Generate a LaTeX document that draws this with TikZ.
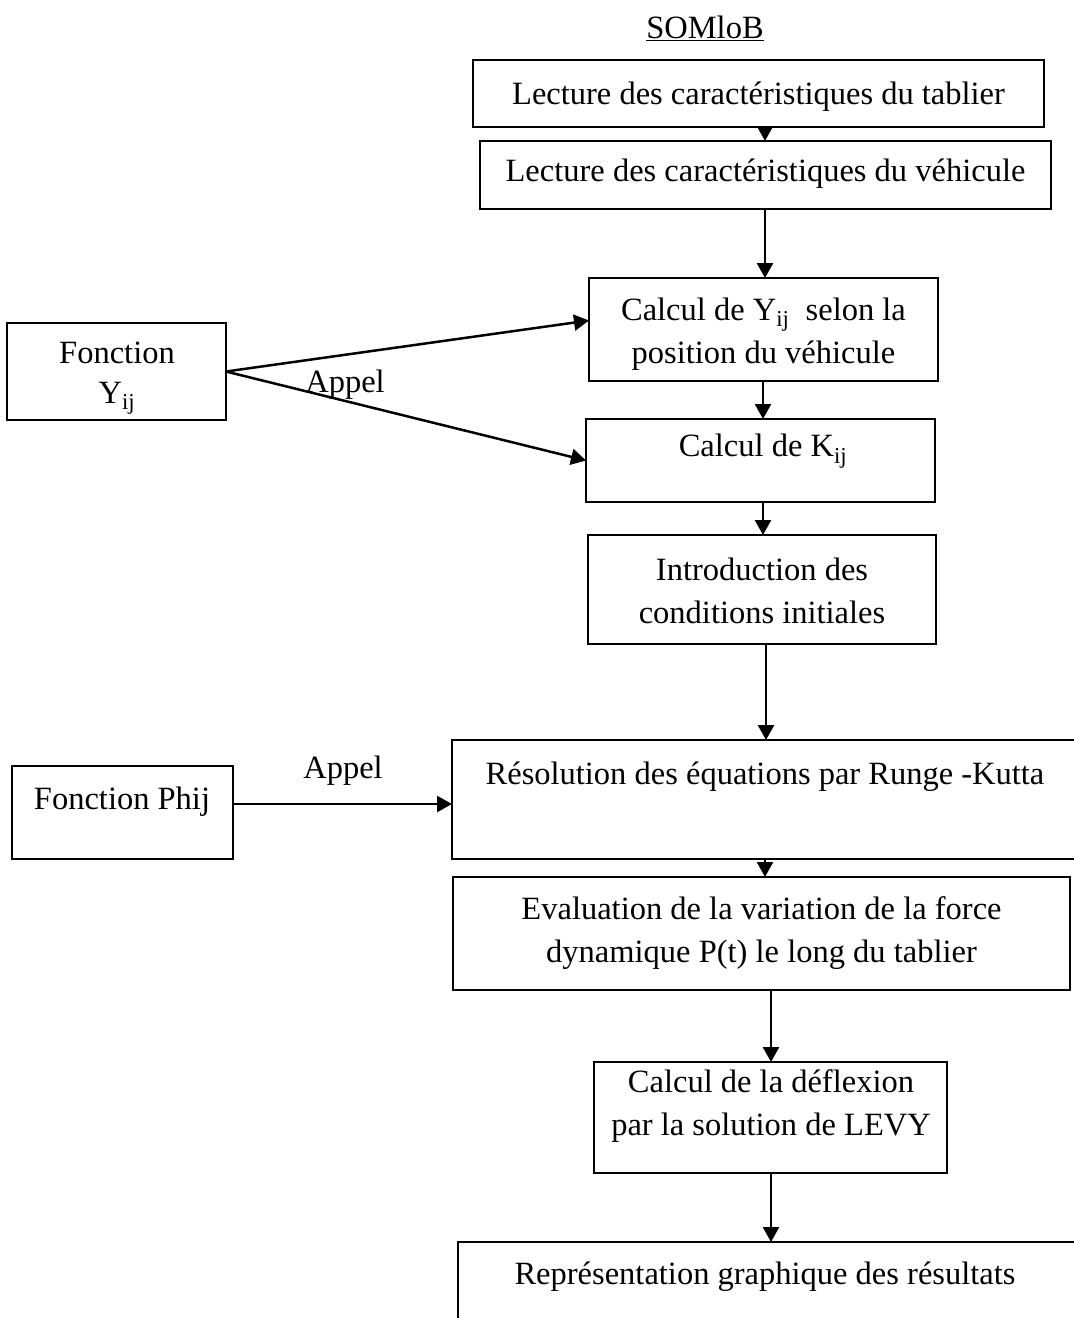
\documentclass[tikz,border=0pt]{standalone}
\usepackage{fontspec}
\setmainfont{Liberation Serif}
\usetikzlibrary{arrows.meta,calc}
\tikzset{
  box/.style={draw, line width=1.8pt, inner sep=0pt, outer sep=0pt},
  txt/.style={font=\fontsize{32.5}{43}\selectfont, align=center, inner sep=0pt, yshift=-3pt},
  arr/.style={line width=2.5pt, -{Triangle[length=15pt,width=16pt]}}
}
\begin{document}
\begin{tikzpicture}[x=1pt,y=-1pt]
\clip (0,0) rectangle (1074,1318);
% boxes
\node[box, minimum width=571pt, minimum height=67pt] (b1) at (758.5,93.5) {};
\node[box, minimum width=571pt, minimum height=68pt] (b2) at (765.5,175) {};
\node[box, minimum width=349pt, minimum height=103pt] (b3) at (763.5,329.5) {};
\node[box, minimum width=349pt, minimum height=83pt] (b4) at (760.5,460.5) {};
\node[box, minimum width=348pt, minimum height=109pt] (b5) at (762,589.5) {};
\node[box, minimum width=648pt, minimum height=119pt] (b6) at (776,799.5) {};
\node[box, minimum width=617pt, minimum height=113pt] (b7) at (761.5,933.5) {};
\node[box, minimum width=353pt, minimum height=111pt] (b8) at (770.5,1117.5) {};
\node[box, minimum width=642pt, minimum height=98pt] (b9) at (779,1291) {};
\node[box, minimum width=219pt, minimum height=97pt] (fy) at (116.5,371.5) {};
\node[box, minimum width=221pt, minimum height=93pt] (fp) at (122.5,812.5) {};
% texts
\node[txt, yshift=3pt] (somlob) at (705,28) {\underline{SOMloB}};
\node[txt] (t1) at (758.5,94) {Lecture des caractéristiques du tablier};
\node[txt] (t2) at (765.5,171) {Lecture des caractéristiques du véhicule};
\node[txt] (t3) at (763.5,331) {Calcul de Y\textsubscript{ij}\ \ selon la\\position du véhicule};
\node[txt] (t4) at (763,448) {Calcul de K\textsubscript{ij}};
\node[txt] (t5) at (762,588) {Introduction des\\conditions initiales};
\node[txt] (t6) at (765,774) {Résolution des équations par Runge -Kutta};
\node[txt] (t7) at (761.5,930) {Evaluation de la variation de la force\\dynamique P(t) le long du tablier};
\node[txt] (t8) at (771,1103) {Calcul de la déflexion\\par la solution de LEVY};
\node[txt] (t9) at (765,1274) {Représentation graphique des résultats};
\node[txt, font=\fontsize{32.5}{40}\selectfont] (tfy) at (117,375) {Fonction\\Y\textsubscript{ij}};
\node[txt] (tfp) at (122,799) {Fonction Phij};
\node[txt] (ap1) at (345,382) {Appel};
\node[txt] (ap2) at (343,768) {Appel};
% x positions of vertical connectors
\coordinate (xa) at (765,0);
\coordinate (xb) at (763,0);
\coordinate (xc) at (766,0);
\coordinate (xd) at (771,0);
% vertical connectors
\draw[arr] (b1.south -| xa) -- (b2.north -| xa);
\draw[arr] (b2.south -| xa) -- (b3.north -| xa);
\draw[arr] (b3.south -| xb) -- (b4.north -| xb);
\draw[arr] (b4.south -| xb) -- (b5.north -| xb);
\draw[arr] (b5.south -| xc) -- (b6.north -| xc);
\draw[arr] (b6.south -| xa) -- (b7.north -| xa);
\draw[arr] (b7.south -| xd) -- (b8.north -| xd);
\draw[arr] (b8.south -| xd) -- (b9.north -| xd);
% calls
\draw[arr] (fy.east) -- ($(b3.west)+(0,-9)$);
\draw[arr] (fy.east) -- (b4.west);
\coordinate (yp) at (0,804);
\draw[arr] (fp.east |- yp) -- (b6.west |- yp);
\end{tikzpicture}
\end{document}
